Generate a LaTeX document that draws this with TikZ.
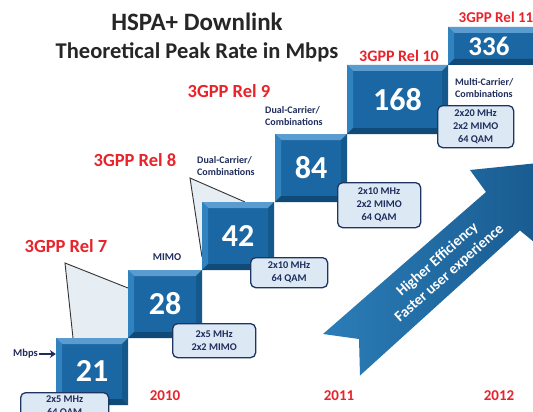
\documentclass[tikz,border=0pt]{standalone}
\usepackage{fontspec}
\setmainfont{Carlito}
\usetikzlibrary{arrows.meta}
\definecolor{relred}{HTML}{E8232B}
\definecolor{navy}{HTML}{1F2D5C}
\definecolor{ttl}{HTML}{262626}
\definecolor{bvtop}{HTML}{5A9BD0}
\definecolor{bvleft}{HTML}{3183C0}
\definecolor{bvright}{HTML}{15598C}
\definecolor{bvbot}{HTML}{0F4A78}
\definecolor{bvface}{HTML}{1B67A3}
\definecolor{infofill}{HTML}{DCE9F5}
\definecolor{infoline}{HTML}{1F3561}
\definecolor{callfill}{HTML}{E6EDF3}
\definecolor{arrL}{HTML}{2B7DB8}
\definecolor{arrR}{HTML}{17588C}
\tikzset{
  numtxt/.style={text=white, font=\bfseries\fontsize{32}{32}\selectfont, inner sep=0pt},
  infobox/.style={draw=infoline, line width=1.3pt, fill=infofill, rounded corners=5pt,
    align=center, text=navy, font=\bfseries\fontsize{10.3}{13}\selectfont, inner sep=0pt, anchor=north west},
  rel/.style={text=relred, font=\bfseries\fontsize{18.5}{20}\selectfont, inner sep=0pt},
  feat/.style={text=navy, font=\bfseries\fontsize{10}{12}\selectfont, align=left, inner sep=0pt},
  yr/.style={text=relred, font=\bfseries\fontsize{15}{16}\selectfont, inner sep=0pt},
  ttlstyle/.style={text=ttl, inner sep=0pt},
  callout/.style={fill=callfill},
  callline/.style={draw=black!80, line width=0.9pt, line join=miter},
}
\newcommand\bevbox[6]{%
 \fill[bvface] (#2,#3) rectangle (#4,#5);
 \fill[bvtop] (#2,#3) -- (#4,#3) -- ({#4-6},{#3+6}) -- ({#2+6},{#3+6}) -- cycle;
 \fill[bvleft] (#2,#3) -- ({#2+6},{#3+6}) -- ({#2+6},{#5-6}) -- (#2,#5) -- cycle;
 \fill[bvright] (#4,#3) -- ({#4-6},{#3+6}) -- ({#4-6},{#5-6}) -- (#4,#5) -- cycle;
 \fill[bvbot] (#2,#5) -- ({#2+6},{#5-6}) -- ({#4-6},{#5-6}) -- (#4,#5) -- cycle;
 \node[numtxt, minimum width={#4-#2}, minimum height={#5-#3}] (#1) at ({(#2+#4)/2},{(#3+#5)/2}) {#6};
}
\begin{document}
\begin{tikzpicture}[x=1pt,y=-1pt]
\clip (0,0) rectangle (533,412);
\fill[white] (0,0) rectangle (533,412);

% title
\node[ttlstyle, font=\bfseries\fontsize{25}{27}\selectfont] (t1) at (197,22) {HSPA+ Downlink};
\node[ttlstyle, font=\bfseries\fontsize{22.5}{24}\selectfont] (t2) at (197,52) {Theoretical Peak Rate in Mbps};

% callouts
\coordinate (c7a) at (65,263);
\coordinate (c7b) at (73,338);
\coordinate (c7c) at (128,288);
\fill[callout] (c7a) -- (c7b) -- (128,338) -- (c7c) -- cycle;
\draw[callline] (c7b) -- (c7a) -- (c7c);
\coordinate (c8a) at (190,178);
\coordinate (c8b) at (202,257);
\coordinate (c8c) at (245,202);
\fill[callout] (c8a) -- (c8b) -- (202,202) -- (c8c) -- cycle;
\draw[callline] (c8b) -- (c8a) -- (c8c);

% big arrow
\coordinate (aA) at (323,334);
\coordinate (aN) at (359,339);
\coordinate (aB) at (360,375.5);
\coordinate (aLb) at (520,230.5);
\coordinate (aLw) at (540,247);
\coordinate (aT) at (558,161);
\coordinate (aUw) at (470,170);
\coordinate (aUb) at (486,192);
\shade[left color=arrL, right color=arrR] (aA) -- (aN) -- (aB) -- (aLb) -- (aLw) -- (aT) -- (aUw) -- (aUb) -- cycle;
\node[rotate=41.5, text=white, align=center, inner sep=0pt,
  font=\bfseries\fontsize{15}{18}\selectfont] (arrtxt) at (443.5,266.5) {Higher Efficiency\\Faster user experience};

% boxes
\bevbox{b21}{56}{338}{128}{405}{21}
\bevbox{b28}{128}{270}{202}{338}{28}
\bevbox{b42}{202}{202}{274}{270}{42}
\bevbox{b84}{275}{134}{347}{202}{84}
\bevbox{b168}{347}{65}{448}{134}{168}
\fill[bvface] (448,27) rectangle (545,65);
\fill[bvtop] (448,27) -- (545,27) -- (545,33) -- (454,33) -- cycle;
\fill[bvleft] (448,27) -- (454,33) -- (454,59) -- (448,65) -- cycle;
\fill[bvbot] (448,65) -- (454,59) -- (545,59) -- (545,65) -- cycle;
\node[numtxt, font=\bfseries\fontsize{27}{27}\selectfont] (b336) at (489,46) {336};

% info boxes
\node[infobox, minimum width=88, minimum height=28] (i21) at (20,392) {2x5 MHz\\64 QAM};
\node[infobox, minimum width=83, minimum height=34] (i28) at (172,323) {2x5 MHz\\2x2 MIMO};
\node[infobox, minimum width=77, minimum height=30] (i42) at (250,257) {2x10 MHz\\64 QAM};
\node[infobox, minimum width=83, minimum height=45] (i84) at (337,182) {2x10 MHz\\2x2 MIMO\\64 QAM};
\node[infobox, minimum width=76, minimum height=42] (i168) at (437,105) {2x20 MHz\\2x2 MIMO\\64 QAM};

% release labels
\node[rel] (r7) at (66,246) {3GPP Rel 7};
\node[rel] (r8) at (135,160) {3GPP Rel 8};
\node[rel] (r9) at (229,91) {3GPP Rel 9};
\node[rel, font=\bfseries\fontsize{16}{18}\selectfont] (r10) at (399,56) {3GPP Rel 10};
\node[rel, font=\bfseries\fontsize{15}{17}\selectfont] (r11) at (496,17) {3GPP Rel 11};

% feature labels
\node[feat, font=\bfseries\fontsize{10.5}{12}\selectfont] (mimo) at (167,257) {MIMO};
\node[feat, anchor=west] (dc1) at (197,166) {Dual-Carrier/\\Combinations};
\node[feat, anchor=west] (dc2) at (265,116) {Dual-Carrier/\\Combinations};
\node[feat, anchor=west] (mc) at (455,88) {Multi-Carrier/\\Combinations};

% Mbps
\node[feat, anchor=west, font=\bfseries\fontsize{10.5}{12}\selectfont] (mbps) at (13,354) {Mbps};
\draw[navy, line width=1.8pt, -{Stealth[length=6pt,width=8pt]}] ([xshift=1pt]mbps.east) -- (mbps.east -| b21.west);

% years
\node[yr] (y10) at (165,396) {2010};
\node[yr] (y11) at (339,396) {2011};
\node[yr] (y12) at (499,396) {2012};
\end{tikzpicture}
\end{document}
